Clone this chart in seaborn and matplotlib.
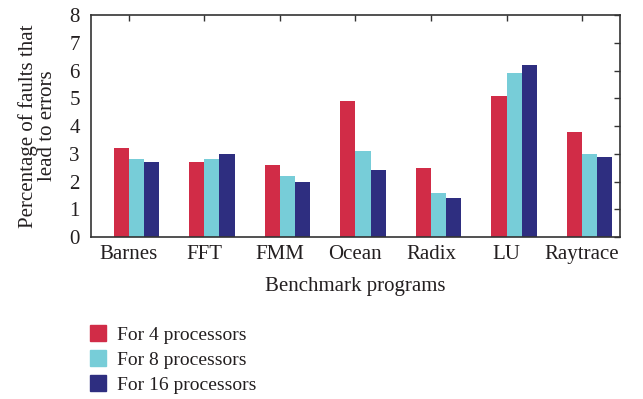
import matplotlib
matplotlib.use("Agg")
import matplotlib.pyplot as plt
from matplotlib.lines import Line2D
import seaborn as sns
import pandas as pd

categories = ["Barnes", "FFT", "FMM", "Ocean", "Radix", "LU", "Raytrace"]
series = ["For 4 processors", "For 8 processors", "For 16 processors"]
p4 = [3.2, 2.7, 2.6, 4.9, 2.5, 5.1, 3.8]
p8 = [2.8, 2.8, 2.2, 3.1, 1.6, 5.9, 3.0]
p16 = [2.7, 3.0, 2.0, 2.4, 1.4, 6.2, 2.9]
colors = ["#D12C47", "#77CDD8", "#2E2E80"]

rows = []
for s, vals in zip(series, [p4, p8, p16]):
    for c, v in zip(categories, vals):
        rows.append({"Benchmark": c, "Series": s, "Value": v})
df = pd.DataFrame(rows)

sns.set_theme(style="white")
plt.rcParams["font.family"] = ["Liberation Serif", "DejaVu Serif"]
txt = "#231F20"

fig = plt.figure(figsize=(6.43, 3.99), dpi=100)
ax = fig.add_axes([0.1415, 0.406, 0.8225, 0.556])
sns.barplot(data=df, x="Benchmark", y="Value", hue="Series", order=categories,
            hue_order=series, palette=colors, width=0.6, saturation=1,
            edgecolor="none", linewidth=0, ax=ax, legend=False)

ax.set_xlim(-0.6, 6.4)
ax.set_ylim(0, 8)
ax.set_yticks(range(0, 9))
ax.set_xticks([i - 0.1 for i in range(len(categories))])
ax.set_xticklabels(categories)
ax.tick_params(axis="both", direction="in", top=True, right=True, length=4,
               width=1, color="#333333", labelsize=15, labelcolor=txt)
ax.tick_params(axis="x", pad=6)
ax.tick_params(axis="y", pad=8)
for sp in ax.spines.values():
    sp.set_visible(True)
    sp.set_color("#333333")
    sp.set_linewidth(1.2)
ax.set_xlabel("Benchmark programs", fontsize=15, labelpad=9, color=txt)
ax.set_ylabel("Percentage of faults that\nlead to errors", fontsize=15,
              labelpad=9, color=txt, linespacing=1.0)

handles = [Line2D([], [], marker="s", linestyle="none", markersize=11.5,
                  markerfacecolor=c, markeredgecolor=c) for c in colors]
fig.legend(handles, series, loc="upper left", bbox_to_anchor=(0.122, 0.202),
           frameon=False, fontsize=14, handletextpad=0.4, labelspacing=0.38,
           handlelength=1.2, borderaxespad=0, labelcolor=txt)

fig.savefig("out.png", dpi=100)
